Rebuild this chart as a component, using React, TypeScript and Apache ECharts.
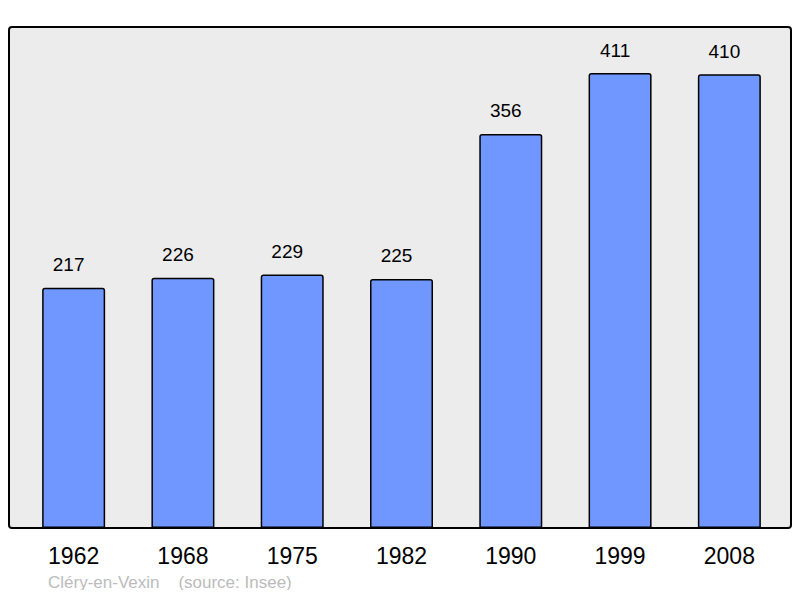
import React, { useEffect, useRef } from "react";
import * as echarts from "echarts";

const years = ["1962", "1968", "1975", "1982", "1990", "1999", "2008"];
const population = [217, 226, 229, 225, 356, 411, 410];
const caption = "Cléry-en-Vexin    (source: Insee)";

export default function App() {
  const ref = useRef<HTMLDivElement>(null);
  useEffect(() => {
    const chart = echarts.init(ref.current!, null, { renderer: "svg" });
    chart.setOption({
      animation: false,
      textStyle: { fontFamily: "Liberation Sans, Arial, sans-serif" },
      graphic: [
        {
          type: "rect",
          z: -10,
          shape: { x: 9, y: 27, width: 782, height: 501, r: 3 },
          style: { fill: "#ececec", stroke: "#000", lineWidth: 2 },
          silent: true,
        },
        {
          type: "text",
          left: 48,
          top: 574,
          style: {
            text: caption,
            fill: "#bbbbbb",
            font: "17px Liberation Sans, Arial, sans-serif",
          },
        },
      ],
      grid: { left: 19, right: 16, top: 27, bottom: 70, containLabel: false },
      xAxis: {
        type: "category",
        data: years,
        axisLine: { show: false },
        axisTick: { show: false },
        axisLabel: {
          color: "#000",
          fontSize: 23,
          margin: 16,
          fontFamily: "Liberation Sans, Arial, sans-serif",
        },
      },
      yAxis: {
        type: "value",
        min: 0,
        max: 452.6,
        show: false,
        splitLine: { show: false },
      },
      series: [
        {
          type: "bar",
          data: population,
          barWidth: 63,
          itemStyle: {
            color: "#7097ff",
            borderColor: "#000",
            borderWidth: 1.5,
            borderRadius: [2, 2, 0, 0],
          },
          label: {
            show: true,
            position: "top",
            distance: 13.5,
            offset: [-5, 0],
            color: "#000",
            fontSize: 19,
            fontFamily: "Liberation Sans, Arial, sans-serif",
          },
        },
      ],
    });
    return () => chart.dispose();
  }, []);
  return <div ref={ref} style={{ width: 800, height: 598, margin: -8 }} />;
}
